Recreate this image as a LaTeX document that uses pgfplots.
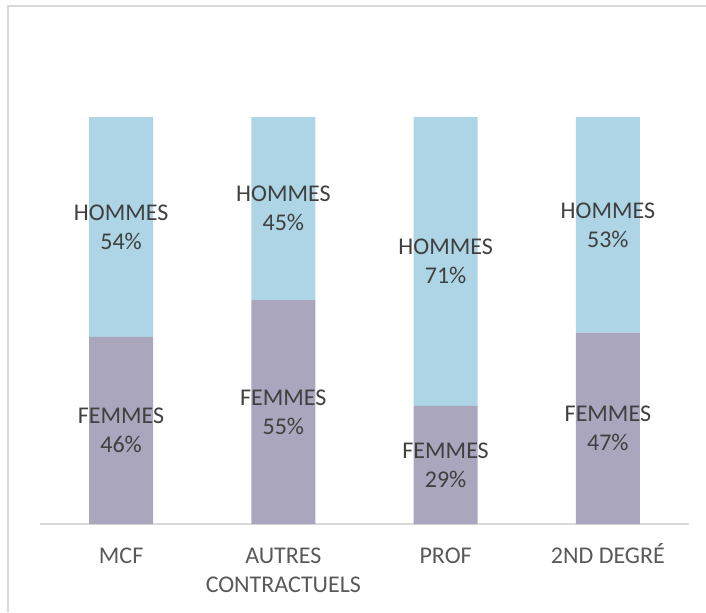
\documentclass[border=0pt]{standalone}
\usepackage{pgfplots}
\pgfplotsset{compat=1.18}
\usepackage{fontspec}
\setmainfont{Carlito}

\definecolor{femmes}{HTML}{A9A6BD}
\definecolor{hommes}{HTML}{ADD5E6}
\definecolor{cadre}{HTML}{D9D9D9}
\definecolor{texte}{HTML}{404040}
\definecolor{ticktxt}{HTML}{595959}

\begin{document}
\begin{tikzpicture}
  \useasboundingbox (0pt,0pt) rectangle (353pt,-306pt);
  \draw[cadre, line width=1pt] (4pt,-306pt) |- (353pt,-3pt);
  \begin{axis}[
      at={(20pt,-262pt)}, anchor=south west,
      scale only axis, width=324.5pt, height=203.5pt,
      ybar stacked, bar width=32pt,
      xmin=-0.5, xmax=3.5, ymin=0, ymax=100,
      xtick=data,
      xticklabels={\strut MCF,{\strut AUTRES\\CONTRACTUELS},\strut PROF,\strut 2ND DEGRÉ},
      xticklabel style={align=center, anchor=north, inner sep=0pt, yshift=-9.3pt,
        text=ticktxt, font=\fontsize{12}{14.5}\selectfont},
      xtick style={draw=none},
      axis x line*=bottom,
      x axis line style={cadre, line width=0.75pt, -},
      hide y axis,
      /pgf/number format/assume math mode=true,
      nodes near coords,
      every node near coord/.append style={align=center, anchor=center, text=texte,
        font=\fontsize{12}{14.5}\selectfont},
    ]
    \addplot[fill=femmes, draw=none,
      nodes near coords={FEMMES\\\pgfmathprintnumber{\pgfplotspointmeta}\%}]
      coordinates {(0,46) (1,55) (2,29) (3,47)};
    \addplot[fill=hommes, draw=none,
      nodes near coords={HOMMES\\\pgfmathprintnumber{\pgfplotspointmeta}\%}]
      coordinates {(0,54) (1,45) (2,71) (3,53)};
  \end{axis}
\end{tikzpicture}
\end{document}
